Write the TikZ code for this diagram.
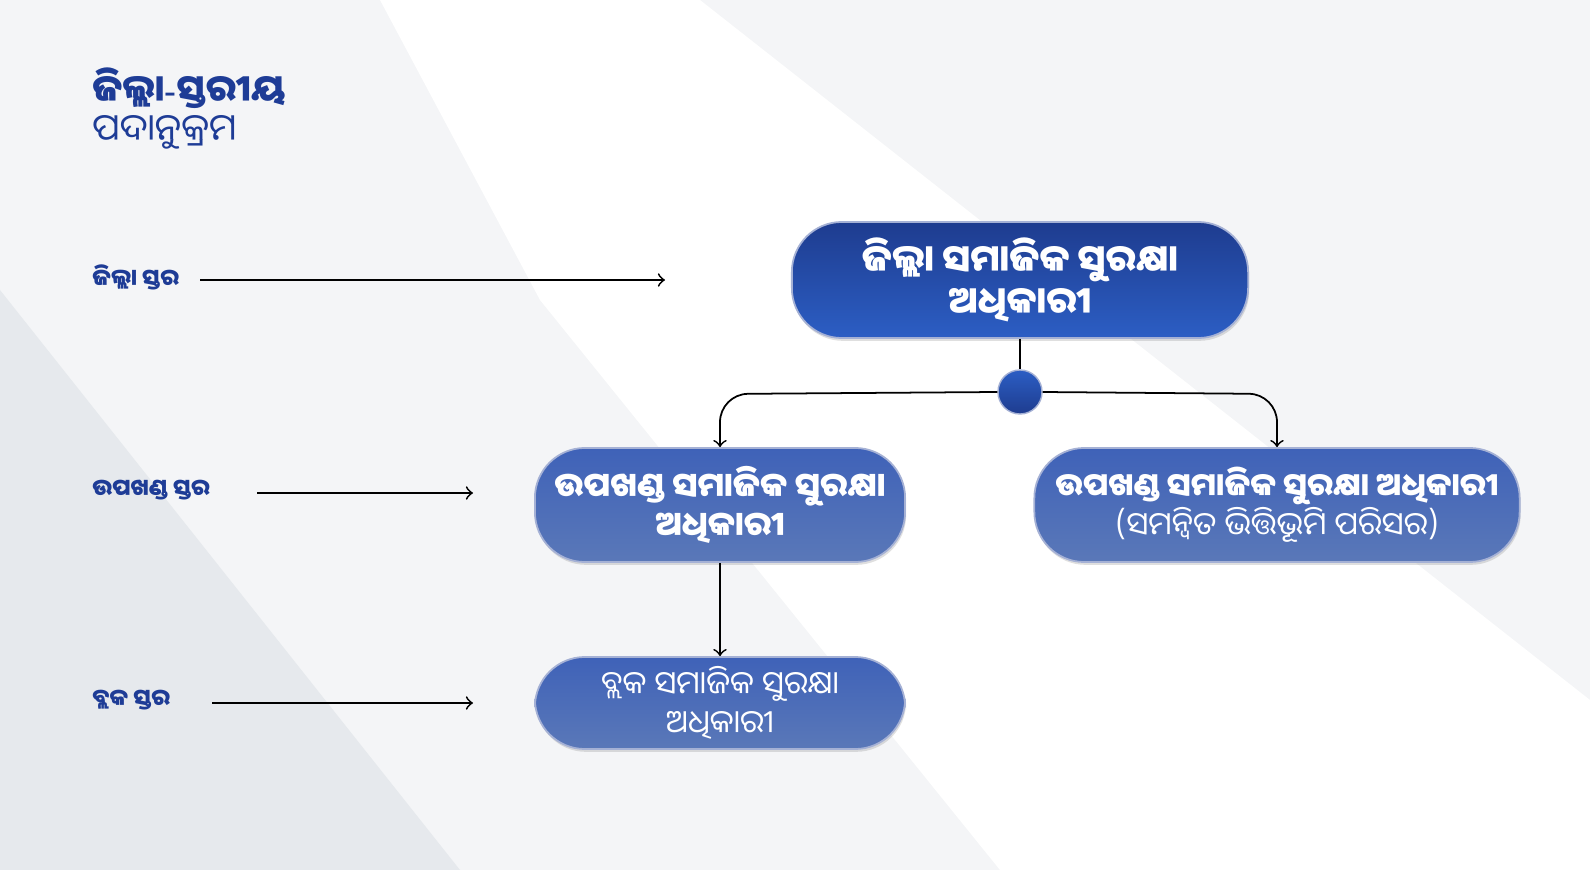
\documentclass[tikz,border=0pt]{standalone}
\usepackage{fontspec}
\newfontfamily\odia[Script=Oriya]{Noto Sans Oriya UI}
\newfontfamily\latinsans{Noto Sans}
\usetikzlibrary{shadows}
\definecolor{navy}{HTML}{1E3C96}
\definecolor{topA}{HTML}{1E3C8F}
\definecolor{topB}{HTML}{2C5EC4}
\definecolor{boxA}{HTML}{3F62B8}
\definecolor{boxB}{HTML}{5A78B8}
\definecolor{bgA}{HTML}{E6E9ED}
\tikzset{
  pill/.style={draw=navy!40, line width=0.5pt, rounded corners=0.5cm, text=white,
    align=center, font=\odia\bfseries\fontsize{9.5}{11}\selectfont, inner sep=0pt,
    drop shadow={shadow xshift=0.3pt, shadow yshift=-0.8pt, opacity=0.25}},
  level/.style={anchor=west, text=navy, font=\odia\bfseries\fontsize{6.5}{8}\selectfont},
  link/.style={-to, line width=0.5pt},
}
\begin{document}
\begin{tikzpicture}[x=0.01cm, y=-0.01cm]
  \fill[bgA!45] (0,0) rectangle (1590,870);
  \fill[white] (380,0) -- (700,0) -- (1590,700) -- (1590,870) -- (1000,870) -- (540,300) -- cycle;
  \fill[bgA] (0,290) -- (460,870) -- (0,870) -- cycle;
  \useasboundingbox (0,0) rectangle (1590,870);
  % title
  \node[anchor=west, text=navy, font=\odia\bfseries\fontsize{10.5}{12}\selectfont] (title) at (80,88) {ଜିଲ୍ଲା{\latinsans\bfseries -}ସ୍ତରୀୟ};
  \node[anchor=west, text=navy, font=\odia\fontsize{10.5}{12}\selectfont] (subtitle) at (80,132) {ପଦାନୁକ୍ରମ};
  % boxes
  \node[pill, top color=topA, bottom color=topB, minimum width=4.56cm, minimum height=1.16cm,
    font=\odia\bfseries\fontsize{10.5}{12}\selectfont] (dso) at (1020,280) {ଜିଲ୍ଲା ସମାଜିକ ସୁରକ୍ଷା\\ଅଧିକାରୀ};
  \node[pill, top color=boxA, bottom color=boxB, minimum width=3.7cm, minimum height=1.14cm] (sdso) at (720,505) {ଉପଖଣ୍ଡ ସମାଜିକ ସୁରକ୍ଷା\\ଅଧିକାରୀ};
  \node[pill, top color=boxA, bottom color=boxB, minimum width=4.85cm, minimum height=1.14cm,
    font=\odia\fontsize{9}{11}\selectfont] (sdsoi) at (1277,505) {\textbf{ଉପଖଣ୍ଡ ସମାଜିକ ସୁରକ୍ଷା ଅଧିକାରୀ}\\(ସମନ୍ୱିତ ଭିତ୍ତିଭୂମି ପରିସର)};
  \node[pill, top color=boxA, bottom color=boxB, minimum width=3.7cm, minimum height=0.92cm,
    font=\odia\fontsize{9}{11}\selectfont] (bso) at (720,703) {ବ୍ଲକ ସମାଜିକ ସୁରକ୍ଷା\\ଅଧିକାରୀ};
  \node[circle, minimum size=0.44cm, inner sep=0pt, draw=navy!40, top color=topB, bottom color=topA] (hub) at (1020,392) {};
  % connectors
  \draw[line width=0.5pt] (dso) -- (hub);
  \draw[link, rounded corners=8pt] (hub.west) -- (720,394) -- (sdso.north);
  \draw[link, rounded corners=8pt] (hub.east) -- (1277,394) -- (sdsoi.north);
  \draw[link] (sdso) -- (bso);
  % levels
  \node[level] (lvdist) at (80,277) {ଜିଲ୍ଲା ସ୍ତର};
  \node[level] (lvsub) at (80,490) {ଉପଖଣ୍ଡ ସ୍ତର};
  \node[level] (lvblock) at (80,700) {ବ୍ଲକ ସ୍ତର};
  \coordinate (ad) at (665,280);
  \coordinate (as) at (473,493);
  \coordinate (ab) at (473,703);
  \draw[link] (200,280) -- (ad);
  \draw[link] (257,493) -- (as);
  \draw[link] (212,703) -- (ab);
\end{tikzpicture}
\end{document}
